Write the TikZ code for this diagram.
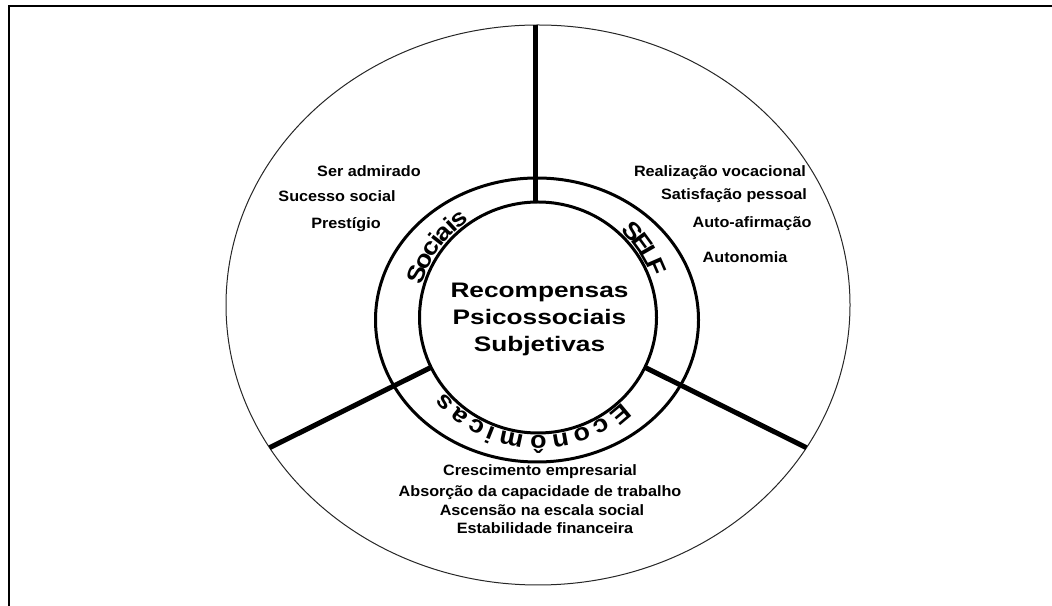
\documentclass[tikz,border=0pt]{standalone}
\usepackage{fontspec}
\setmainfont{Liberation Sans}
\newfontfamily\itemfont[FakeStretch=1.08]{Liberation Sans}
\newfontfamily\corefont[FakeStretch=1.25]{Liberation Sans}
\newfontfamily\arcfont[FakeStretch=1.12]{Liberation Sans}
\usetikzlibrary{shapes.geometric}

\tikzset{
  x=1pt, y=1pt,
  frameline/.style={line width=2pt},
  rimline/.style={draw=black!85, line width=1pt},
  ringline/.style={draw, line width=3pt},
  spokeline/.style={line width=5pt},
  ellipsebox/.style={ellipse, inner sep=0pt, outer sep=0pt},
  item/.style={font=\itemfont\bfseries\fontsize{15}{18}\selectfont,
               inner sep=0pt, text height=11pt, text depth=3pt},
  arcchar/.style={font=\arcfont\bfseries\fontsize{24}{28}\selectfont,
               inner sep=0pt, anchor=base},
}

\begin{document}
\begin{tikzpicture}
\useasboundingbox (0,0) rectangle (1052,605);
\clip (0,0) rectangle (1052,605);

% outer frame (only its left and top sides fall inside the page)
\draw[frameline] (9,-10) |- (1070,599);

% centres of the two rings
\coordinate (o) at (538,287.5);
\coordinate (ob) at (537,285);

% outer rim
\node[ellipsebox, rimline, minimum width=624pt, minimum height=560pt] (rim) at (538,300) {};

% inner ring, then the spokes dividing the three sectors
\node[ellipsebox, ringline, minimum width=237pt, minimum height=231pt] (core) at (o) {};
\draw[spokeline] (core.91) -- (core.91 |- rim.north);
\draw[spokeline] (core.205) -- (rim.208);
\draw[spokeline] (core.335) -- (rim.332);

% band ring
\node[ellipsebox, ringline, minimum width=323pt, minimum height=284pt] (band) at (ob) {};

% title
\node[font=\corefont\bfseries\fontsize{21}{27}\selectfont, align=center] (title) at (539.5,285.3)
      {Recompensas\\Psicossociais\\Subjetivas};

% sector names, one letter at a time along the band (clockwise, tops outward)
\foreach \c/\a [count=\i] in {S/160, o/153.0, c/146.6, i/142.0, a/137.4, i/132.8, s/128}
  \node[arcchar, rotate={\a-90}] (soc\i) at ([shift={(\a:121 and 118)}]o) {\c};
\foreach \c/\a [count=\i] in {S/43, E/36.3, L/29.8, F/23.5}
  \node[arcchar, rotate={\a-90}] (slf\i) at ([shift={(\a:121 and 118)}]o) {\c};
\foreach \c/\a [count=\i] in {E/-50, c/-60.1, o/-69.8, n/-79.8, ô/-89.8,
                              m/-102.1, i/-111.7, c/-118.6, a/-127.7, s/-137}
  \node[arcchar, rotate={\a-90}] (eco\i) at ([shift={(\a:121 and 118)}]o) {\c};

% social rewards
\node[item] (s1) at (369,432) {Ser admirado};
\node[item] (s2) at (337,407) {Sucesso social};
\node[item] (s3) at (346,380) {Prestígio};

% self rewards
\node[item] (f1) at (720,432) {Realização vocacional};
\node[item] (f2) at (734,409) {Satisfação pessoal};
\node[item] (f3) at (752,381) {Auto-afirmação};
\node[item] (f4) at (745,346) {Autonomia};

% economic rewards
\node[item] (e1) at (540,133) {Crescimento empresarial};
\node[item] (e2) at (540,112) {Absorção da capacidade de trabalho};
\node[item] (e3) at (542,93) {Ascensão na escala social};
\node[item] (e4) at (545,75) {Estabilidade financeira};
\end{tikzpicture}
\end{document}
